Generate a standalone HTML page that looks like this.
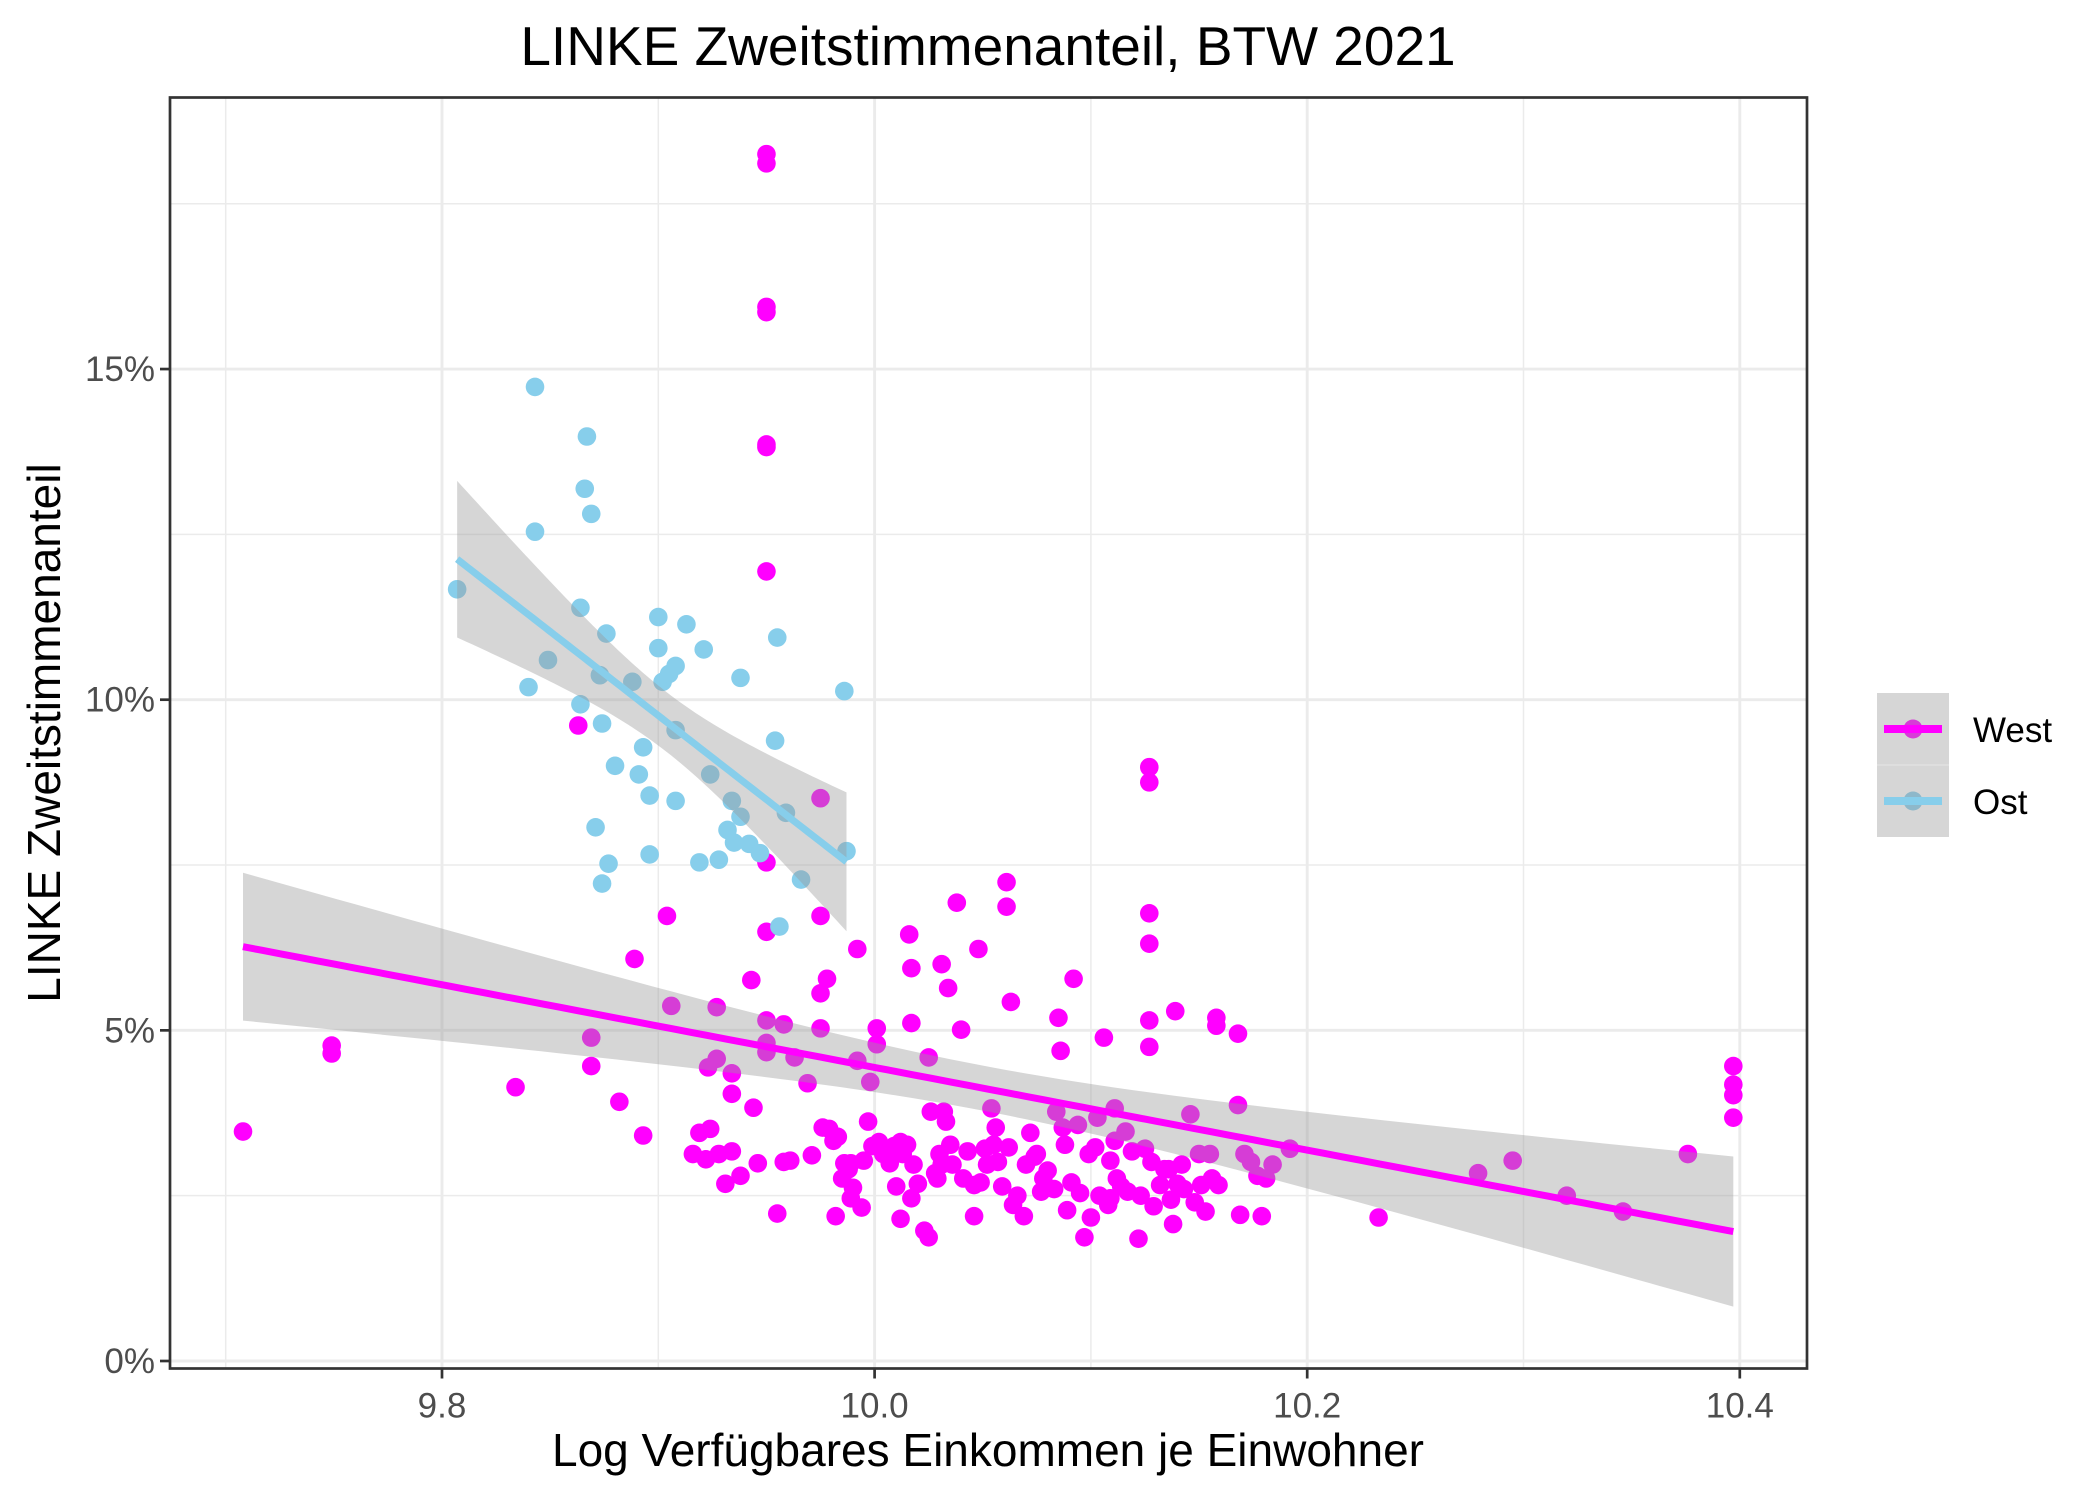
<!DOCTYPE html>
<html><head><meta charset="utf-8"><style>
html,body{margin:0;padding:0;background:#fff}
svg{display:block}
text{font-family:"Liberation Sans",Arial,sans-serif}
</style></head><body>
<svg id="chart" width="2100" height="1499" viewBox="0 0 2100 1499" xmlns="http://www.w3.org/2000/svg">
<rect x="0" y="0" width="2100" height="1499" fill="#fff"/>
<g id="grid"></g>
<g id="pts"></g>
<g id="smooth"></g>
<rect x="170" y="97.5" width="1637" height="1271" fill="none" stroke="#333" stroke-width="2.7"/>
<g id="axes"></g>
<text x="988" y="65" text-anchor="middle" font-size="55" fill="#000">LINKE Zweitstimmenanteil, BTW 2021</text>
<text x="988" y="1466" text-anchor="middle" font-size="46" fill="#000">Log Verfügbares Einkommen je Einwohner</text>
<text x="0" y="0" transform="translate(60,733) rotate(-90)" text-anchor="middle" font-size="46" fill="#000">LINKE Zweitstimmenanteil</text>
<g>
  <g>
    <circle cx="1913" cy="729" r="9.5" fill="#ff00ff"/>
    <rect x="1877" y="693" width="72" height="72" fill="#999" fill-opacity="0.4"/>
    <line x1="1884" y1="729" x2="1942" y2="729" stroke="#ff00ff" stroke-width="8"/>
    <text x="1973" y="742" font-size="35" fill="#000">West</text>
  </g>
  <g>
    <circle cx="1913" cy="801" r="9.5" fill="#87ceeb"/>
    <rect x="1877" y="765" width="72" height="72" fill="#999" fill-opacity="0.4"/>
    <line x1="1884" y1="801" x2="1942" y2="801" stroke="#87ceeb" stroke-width="8"/>
    <text x="1973" y="814" font-size="35" fill="#000">Ost</text>
  </g>
  <line x1="1877" y1="765" x2="1949" y2="765" stroke="#fff" stroke-opacity="0.4" stroke-width="1"/>
</g>
</svg>
<script>
const westX=[9.708,9.749,9.749,9.834,9.863,9.869,9.869,9.882,9.889,9.893,9.904,9.906,9.916,9.919,9.922,9.924,9.923,9.927,9.927,9.928,9.931,9.934,9.934,9.934,9.938,9.944,9.943,9.946,9.950,9.950,9.950,9.950,9.950,9.950,9.950,9.950,9.950,9.950,9.950,9.950,9.955,9.958,9.958,9.961,9.963,9.969,9.971,9.975,9.975,9.975,9.975,9.976,9.978,9.979,9.981,9.982,9.983,9.985,9.986,9.988,9.989,9.989,9.990,9.992,9.992,9.994,9.995,9.997,9.998,9.999,10.001,10.001,10.002,10.004,10.007,10.009,10.010,10.012,10.012,10.013,10.015,10.016,10.017,10.017,10.017,10.018,10.020,10.023,10.025,10.025,10.026,10.028,10.029,10.030,10.031,10.031,10.032,10.033,10.034,10.035,10.036,10.038,10.040,10.041,10.043,10.046,10.046,10.048,10.049,10.051,10.052,10.054,10.055,10.056,10.057,10.059,10.061,10.061,10.062,10.063,10.064,10.066,10.069,10.070,10.072,10.074,10.075,10.077,10.078,10.080,10.083,10.084,10.085,10.086,10.087,10.088,10.089,10.091,10.092,10.094,10.095,10.097,10.099,10.100,10.102,10.103,10.104,10.106,10.108,10.109,10.109,10.111,10.111,10.112,10.114,10.116,10.117,10.119,10.122,10.123,10.125,10.127,10.127,10.127,10.127,10.127,10.127,10.128,10.129,10.132,10.134,10.136,10.137,10.138,10.139,10.140,10.142,10.143,10.146,10.148,10.150,10.151,10.153,10.155,10.156,10.158,10.158,10.159,10.168,10.168,10.169,10.171,10.174,10.177,10.179,10.181,10.184,10.192,10.233,10.279,10.295,10.320,10.346,10.376,10.397,10.397,10.397,10.397];
const westY=[3.47,4.77,4.65,4.14,9.61,4.89,4.46,3.92,6.08,3.41,6.73,5.37,3.13,3.45,3.05,3.51,4.44,4.57,5.35,3.13,2.68,4.35,4.04,3.17,2.80,3.83,5.76,2.99,18.25,18.11,15.94,15.86,13.86,13.82,11.94,7.54,6.49,5.15,4.67,4.81,2.23,5.09,3.01,3.03,4.59,4.20,3.11,5.56,5.03,8.51,6.73,3.53,5.78,3.51,3.33,2.19,3.39,2.76,2.99,2.90,2.99,2.46,2.62,6.23,4.54,2.32,3.03,3.62,4.22,3.25,5.03,4.79,3.31,3.13,2.99,3.25,2.64,2.15,3.31,3.13,3.27,6.45,5.94,5.11,2.46,2.97,2.68,1.97,1.87,4.59,3.77,2.84,2.76,3.13,2.97,6.00,3.77,3.62,5.64,3.27,2.97,6.93,5.01,2.76,3.17,2.66,2.19,6.23,2.70,3.21,2.97,3.82,3.27,3.53,3.01,2.64,7.24,6.87,3.23,5.43,2.36,2.50,2.19,2.97,3.45,3.09,3.13,2.56,2.76,2.88,2.60,3.77,5.19,4.69,3.53,3.27,2.28,2.70,5.78,3.57,2.54,1.87,3.13,2.17,3.23,3.68,2.50,4.89,2.36,3.03,2.46,3.82,3.33,2.76,2.64,3.47,2.56,3.17,1.85,2.50,3.21,8.98,8.75,6.77,6.31,5.15,4.75,3.01,2.34,2.66,2.90,2.90,2.44,2.07,5.29,2.68,2.97,2.60,3.73,2.40,3.13,2.66,2.26,3.13,2.76,5.19,5.07,2.66,4.95,3.87,2.21,3.13,3.01,2.80,2.19,2.76,2.97,3.21,2.17,2.84,3.03,2.50,2.26,3.13,4.46,4.18,4.02,3.68];
const ostX=[9.807,9.843,9.843,9.840,9.849,9.864,9.864,9.867,9.866,9.869,9.871,9.874,9.873,9.874,9.876,9.877,9.880,9.888,9.891,9.893,9.896,9.896,9.900,9.900,9.902,9.905,9.908,9.908,9.908,9.913,9.919,9.921,9.924,9.928,9.932,9.934,9.935,9.938,9.938,9.942,9.947,9.954,9.955,9.956,9.959,9.966,9.986,9.987];
const ostY=[11.67,14.73,12.54,10.19,10.60,11.39,9.93,13.98,13.19,12.81,8.07,7.22,10.37,9.64,11.00,7.52,9.00,10.27,8.87,9.28,8.55,7.66,10.78,11.25,10.27,10.39,10.51,9.54,8.47,11.14,7.54,10.76,8.87,7.58,8.03,8.47,7.84,10.33,8.23,7.82,7.68,9.38,10.94,6.57,8.29,7.28,10.13,7.71];
const xTicks=[9.8,10.0,10.2,10.4];
const xTickLabels=["9.8","10.0","10.2","10.4"];
const xMinor=[9.7,9.9,10.1,10.3];
const yTicks=[0,5,10,15];
const yTickLabels=["0%","5%","10%","15%"];
const yMinor=[2.5,7.5,12.5,17.5];

const NS="http://www.w3.org/2000/svg";
const PL=170,PR=1807,PT=97.5,PB=1368.5;
function sx(v){return 442+(v-9.8)*2163;}
function sy(v){return 1361-v*66.13;}
function mk(tag,attrs,parent){const e=document.createElementNS(NS,tag);for(const k in attrs)e.setAttribute(k,attrs[k]);parent.appendChild(e);return e;}
const grid=document.getElementById('grid'),axes=document.getElementById('axes'),pts=document.getElementById('pts'),sm=document.getElementById('smooth');
mk('rect',{x:PL,y:PT,width:PR-PL,height:PB-PT,fill:'#fff'},grid);
xMinor.forEach(v=>{const l=mk('line',{x1:sx(v),x2:sx(v),y1:PT,y2:PB,stroke:'#ebebeb','stroke-width':1.5},grid);

});
yMinor.forEach(v=>{const l=mk('line',{x1:PL,x2:PR,y1:sy(v),y2:sy(v),stroke:'#ebebeb','stroke-width':1.5},grid);

});
xTicks.forEach((v,i)=>{const l=mk('line',{x1:sx(v),x2:sx(v),y1:PT,y2:PB,stroke:'#ebebeb','stroke-width':2.9},grid);


const t=mk('line',{x1:sx(v),x2:sx(v),y1:PB,y2:PB+10,stroke:'#333','stroke-width':2.7},axes);


const tx=mk('text',{x:sx(v),y:PB+49,'text-anchor':'middle','font-size':35,fill:'#4d4d4d'},axes);tx.textContent=xTickLabels[i];

});
yTicks.forEach((v,i)=>{const l=mk('line',{x1:PL,x2:PR,y1:sy(v),y2:sy(v),stroke:'#ebebeb','stroke-width':2.9},grid);


const t=mk('line',{x1:PL-10,x2:PL,y1:sy(v),y2:sy(v),stroke:'#333','stroke-width':2.7},axes);


const tx=mk('text',{x:PL-15,y:sy(v)+12,'text-anchor':'end','font-size':35,fill:'#4d4d4d'},axes);tx.textContent=yTickLabels[i];

});
function drawPts(X,Y,col,name){X.forEach((x,i)=>{const c=mk('circle',{cx:sx(x),cy:sy(Y[i]),r:9.3,fill:col},pts);

});}
drawPts(westX,westY,'#ff00ff','west-point');
drawPts(ostX,ostY,'#87ceeb','ost-point');
function fit(X,Y){const n=X.length;let mx=0,my=0;for(let i=0;i<n;i++){mx+=X[i];my+=Y[i];}mx/=n;my/=n;
let sxx=0,sxy=0;for(let i=0;i<n;i++){sxx+=(X[i]-mx)**2;sxy+=(X[i]-mx)*(Y[i]-my);}
const b=sxy/sxx,a=my-b*mx;let rss=0;for(let i=0;i<n;i++)rss+=(Y[i]-a-b*X[i])**2;
const s=Math.sqrt(rss/(n-2));return {a,b,s,n,mx,sxx,lo:Math.min(...X),hi:Math.max(...X)};}
function drawSmooth(X,Y,col,name){const f=fit(X,Y);const N=80,up=[],dn=[],ln=[];
for(let k=0;k<=N;k++){const x=f.lo+(f.hi-f.lo)*k/N;const yh=f.a+f.b*x;const se=f.s*Math.sqrt(1/f.n+(x-f.mx)**2/f.sxx);
up.push(sx(x)+','+sy(yh+1.97*se));dn.unshift(sx(x)+','+sy(yh-1.97*se));ln.push(sx(x)+','+sy(yh));}
const r=mk('polygon',{points:up.concat(dn).join(' '),fill:'#999','fill-opacity':0.4},sm);


const l=mk('polyline',{points:ln.join(' '),fill:'none',stroke:col,'stroke-width':7},sm);

}
drawSmooth(westX,westY,'#ff00ff','west');
drawSmooth(ostX,ostY,'#87ceeb','ost');
</script>
</body></html>
